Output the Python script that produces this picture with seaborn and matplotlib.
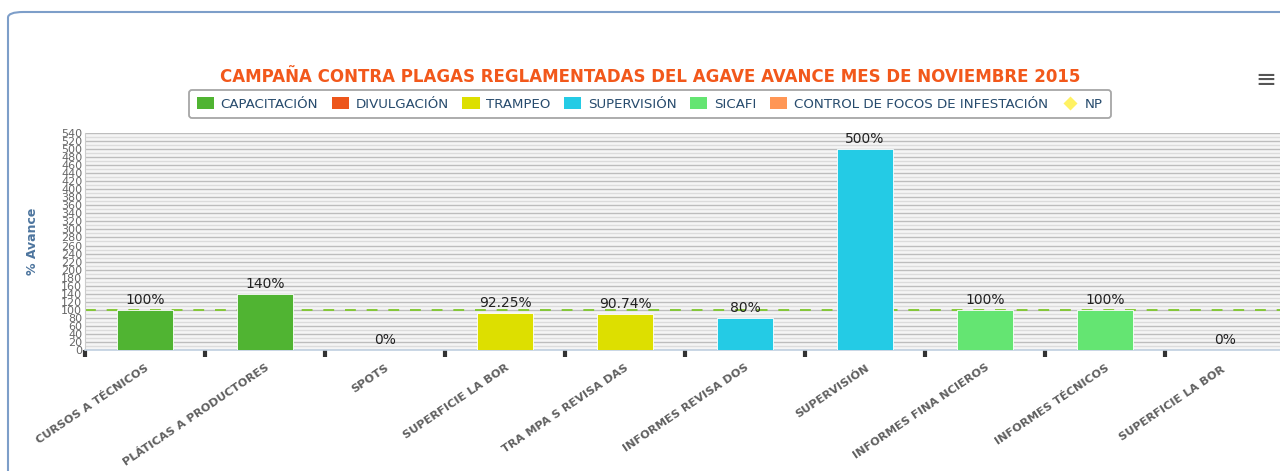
import numpy as np
import pandas as pd
import seaborn as sns
import matplotlib.pyplot as plt
from matplotlib.patches import FancyBboxPatch, Patch
from matplotlib.lines import Line2D
from matplotlib.ticker import MultipleLocator

# data
categories = ['CURSOS A TÉCNICOS', 'PLÁTICAS A PRODUCTORES', 'SPOTS', 'SUPERFICIE LA BOR',
              'TRA MPA S REVISA DAS', 'INFORMES REVISA DOS', 'SUPERVISIÓN',
              'INFORMES FINA NCIEROS', 'INFORMES TÉCNICOS', 'SUPERFICIE LA BOR ']
values = [100, 140, 0, 92.25, 90.74, 80, 500, 100, 100, 0]
series = ['CAPACITACIÓN', 'CAPACITACIÓN', 'DIVULGACIÓN', 'TRAMPEO', 'TRAMPEO',
          'SUPERVISIÓN', 'SUPERVISIÓN', 'SICAFI', 'SICAFI', 'CONTROL DE FOCOS DE INFESTACIÓN']
bar_labels = ['100%', '140%', '0%', '92.25%', '90.74%', '80%', '500%', '100%', '100%', '0%']

legend_names = ['CAPACITACIÓN', 'DIVULGACIÓN', 'TRAMPEO', 'SUPERVISIÓN', 'SICAFI',
                'CONTROL DE FOCOS DE INFESTACIÓN']
legend_colors = ['#50B432', '#ED561B', '#DDDF00', '#24CBE5', '#64E572', '#FF9655']
np_color = '#FFF263'
target = 100

df = pd.DataFrame({'cat': categories, 'val': values, 'serie': series})
palette = dict(zip(legend_names, legend_colors))

sns.set_style('white')
plt.rcParams['font.family'] = ['DejaVu Sans']

fig = plt.figure(figsize=(12.8, 4.71), dpi=100)

# outer rounded frame
frame = FancyBboxPatch((8 / 1280, -0.1), 1.2, (471 - 12) / 471 + 0.1,
                       boxstyle='round,pad=0,rounding_size=0.012',
                       transform=fig.transFigure, fill=False,
                       edgecolor='#7d9ec9', linewidth=1.5)
fig.patches.append(frame)

ax = fig.add_axes([85 / 1280, 121 / 471, 1200 / 1280, 217 / 471])
ax.set_facecolor('#f5f5f5')

sns.barplot(data=df, x='cat', y='val', hue='serie', palette=palette, dodge=False,
            width=0.47, legend=False, ax=ax, saturation=1, zorder=3, edgecolor='white',
            linewidth=0.6)

ax.axhline(target, color='#7ec72b', linestyle=(0, (6, 6)), linewidth=1.3, zorder=2)

for i, (v, lab) in enumerate(zip(values, bar_labels)):
    ax.text(i, v + 7, lab, ha='center', va='bottom', fontsize=10, color='#222222', zorder=4)

ax.set_ylim(0, 540)
ax.set_xlim(-0.5, len(categories) - 0.5)
ax.yaxis.set_major_locator(MultipleLocator(20))
ax.yaxis.set_minor_locator(MultipleLocator(10))
ax.grid(axis='y', which='major', color='#bdbdbd', linewidth=1.0, zorder=0)
ax.grid(axis='y', which='minor', color='#dcdcdc', linewidth=1.0, zorder=0)
ax.set_axisbelow(True)

ax.tick_params(axis='y', which='both', length=0, labelsize=8, labelcolor='#666666', pad=2)
ax.set_yticklabels([str(int(t)) for t in ax.get_yticks()])

ax.set_xticks(range(len(categories)))
ax.set_xticklabels(categories, rotation=34, ha='right', va='top', rotation_mode='anchor',
                   fontsize=8.2, fontweight='bold', color='#606060')
ax.tick_params(axis='x', which='major', bottom=False, length=0, pad=9)
ax.set_xticks(np.arange(-0.5, len(categories), 1), minor=True)
ax.tick_params(axis='x', which='minor', bottom=True, length=5, width=3, color='#333333',
               direction='out')

ax.set_xlabel('')
ax.set_ylabel('% Avance', fontsize=9, fontweight='bold', color='#4d759e', labelpad=16)

for s in ['top', 'right']:
    ax.spines[s].set_visible(False)
ax.spines['left'].set_color('#cccccc')
ax.spines['bottom'].set_color('#c0d0e0')
ax.spines['bottom'].set_linewidth(1.2)

fig.text(650 / 1280, 1 - 77 / 471, 'CAMPAÑA CONTRA PLAGAS REGLAMENTADAS DEL AGAVE AVANCE MES DE NOVIEMBRE 2015',
         ha='center', va='center', fontsize=12, fontweight='bold', color='#F2581B')

handles = [Patch(facecolor=c, edgecolor='none', label=n) for n, c in zip(legend_names, legend_colors)]
handles.append(Line2D([], [], marker='D', color='none', markerfacecolor=np_color,
                      markeredgecolor='none', markersize=7, label='NP'))
leg = fig.legend(handles=handles, loc='center', bbox_to_anchor=(650 / 1280, 1 - 104 / 471),
                 ncol=7, frameon=True, fontsize=9.6, handlelength=1.3, handleheight=1.0,
                 handletextpad=0.5, columnspacing=1.0, borderpad=0.55, fancybox=True,
                 shadow=False, labelcolor='#274b6d')
leg.get_frame().set_edgecolor('#909090')
leg.get_frame().set_linewidth(1.3)

fig.text(1266 / 1280, 1 - 80 / 471, '≡', ha='center', va='center', fontsize=18, color='#555555')

fig.savefig('out.png', dpi=100)
